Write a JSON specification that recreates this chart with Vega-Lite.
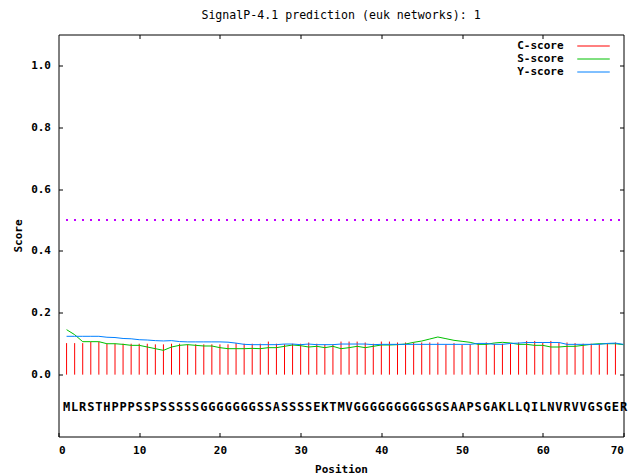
{
  "$schema": "https://vega.github.io/schema/vega-lite/v6.json",
  "autosize": "none",
  "width": 565,
  "height": 402,
  "padding": {"left": 58.5, "top": 34.5, "right": 9.5, "bottom": 39.5},
  "background": "white",
  "title": {"text": "SignalP-4.1 prediction (euk networks): 1", "font": "DejaVu Sans Mono", "fontSize": 11.6, "fontWeight": "normal", "color": "black", "offset": 12, "anchor": "middle", "frame": "group"},
  "config": {
    "view": {"stroke": "black", "strokeWidth": 1},
    "axis": {"domain": false, "grid": false, "ticks": true, "tickColor": "black", "tickSize": -4, "labelFont": "DejaVu Sans Mono", "labelFontWeight": "bold", "labelFontSize": 11, "labelColor": "black", "titleFont": "DejaVu Sans Mono", "titleFontWeight": "bold", "titleFontSize": 11, "titleColor": "black"},
    "legend": {"orient": "none", "legendX": 528, "legendY": 4.5, "title": null, "symbolType": "M-2.5,0H2.5", "symbolSize": 169, "symbolStrokeWidth": 1, "labelAlign": "right", "labelOffset": -37, "labelFont": "DejaVu Sans Mono", "labelFontWeight": "bold", "labelFontSize": 11, "labelColor": "black", "padding": 0, "rowPadding": 1}
  },
  "data": {"values": [
    {"pos":1,"aa":"M","C":0.102,"S":0.1455,"Y":0.124},
    {"pos":2,"aa":"L","C":0.102,"S":0.1293,"Y":0.124},
    {"pos":3,"aa":"R","C":0.102,"S":0.1067,"Y":0.124},
    {"pos":4,"aa":"S","C":0.106,"S":0.1067,"Y":0.124},
    {"pos":5,"aa":"T","C":0.106,"S":0.1067,"Y":0.124},
    {"pos":6,"aa":"H","C":0.100,"S":0.100,"Y":0.121},
    {"pos":7,"aa":"P","C":0.100,"S":0.100,"Y":0.120},
    {"pos":8,"aa":"P","C":0.100,"S":0.098,"Y":0.117},
    {"pos":9,"aa":"P","C":0.100,"S":0.0948,"Y":0.116},
    {"pos":10,"aa":"S","C":0.100,"S":0.0948,"Y":0.113},
    {"pos":11,"aa":"S","C":0.100,"S":0.0894,"Y":0.112},
    {"pos":12,"aa":"P","C":0.098,"S":0.084,"Y":0.110},
    {"pos":13,"aa":"S","C":0.098,"S":0.0786,"Y":0.109},
    {"pos":14,"aa":"S","C":0.100,"S":0.0894,"Y":0.110},
    {"pos":15,"aa":"S","C":0.100,"S":0.0948,"Y":0.107},
    {"pos":16,"aa":"S","C":0.098,"S":0.097,"Y":0.106},
    {"pos":17,"aa":"S","C":0.098,"S":0.0948,"Y":0.106},
    {"pos":18,"aa":"G","C":0.098,"S":0.0927,"Y":0.106},
    {"pos":19,"aa":"G","C":0.098,"S":0.0927,"Y":0.106},
    {"pos":20,"aa":"G","C":0.098,"S":0.0873,"Y":0.106},
    {"pos":21,"aa":"G","C":0.098,"S":0.084,"Y":0.105},
    {"pos":22,"aa":"G","C":0.102,"S":0.084,"Y":0.102},
    {"pos":23,"aa":"G","C":0.100,"S":0.084,"Y":0.098},
    {"pos":24,"aa":"G","C":0.100,"S":0.085,"Y":0.097},
    {"pos":25,"aa":"S","C":0.100,"S":0.084,"Y":0.097},
    {"pos":26,"aa":"S","C":0.107,"S":0.0873,"Y":0.097},
    {"pos":27,"aa":"A","C":0.100,"S":0.0873,"Y":0.097},
    {"pos":28,"aa":"S","C":0.098,"S":0.0916,"Y":0.099},
    {"pos":29,"aa":"S","C":0.100,"S":0.0959,"Y":0.099},
    {"pos":30,"aa":"S","C":0.100,"S":0.0937,"Y":0.097},
    {"pos":31,"aa":"S","C":0.104,"S":0.0894,"Y":0.099},
    {"pos":32,"aa":"E","C":0.100,"S":0.0916,"Y":0.097},
    {"pos":33,"aa":"K","C":0.098,"S":0.0873,"Y":0.097},
    {"pos":34,"aa":"T","C":0.098,"S":0.0916,"Y":0.097},
    {"pos":35,"aa":"M","C":0.107,"S":0.084,"Y":0.099},
    {"pos":36,"aa":"V","C":0.107,"S":0.0873,"Y":0.099},
    {"pos":37,"aa":"G","C":0.107,"S":0.0916,"Y":0.099},
    {"pos":38,"aa":"G","C":0.104,"S":0.0873,"Y":0.099},
    {"pos":39,"aa":"G","C":0.100,"S":0.0916,"Y":0.097},
    {"pos":40,"aa":"G","C":0.107,"S":0.0959,"Y":0.098},
    {"pos":41,"aa":"G","C":0.107,"S":0.0959,"Y":0.098},
    {"pos":42,"aa":"G","C":0.104,"S":0.097,"Y":0.098},
    {"pos":43,"aa":"G","C":0.104,"S":0.099,"Y":0.098},
    {"pos":44,"aa":"G","C":0.104,"S":0.1045,"Y":0.098},
    {"pos":45,"aa":"G","C":0.104,"S":0.1087,"Y":0.098},
    {"pos":46,"aa":"S","C":0.104,"S":0.1153,"Y":0.098},
    {"pos":47,"aa":"G","C":0.104,"S":0.1218,"Y":0.098},
    {"pos":48,"aa":"S","C":0.098,"S":0.1164,"Y":0.098},
    {"pos":49,"aa":"A","C":0.102,"S":0.111,"Y":0.098},
    {"pos":50,"aa":"A","C":0.096,"S":0.1078,"Y":0.098},
    {"pos":51,"aa":"P","C":0.098,"S":0.1045,"Y":0.098},
    {"pos":52,"aa":"S","C":0.102,"S":0.098,"Y":0.101},
    {"pos":53,"aa":"G","C":0.104,"S":0.098,"Y":0.101},
    {"pos":54,"aa":"A","C":0.100,"S":0.1024,"Y":0.098},
    {"pos":55,"aa":"K","C":0.100,"S":0.1045,"Y":0.098},
    {"pos":56,"aa":"L","C":0.100,"S":0.1024,"Y":0.101},
    {"pos":57,"aa":"L","C":0.104,"S":0.098,"Y":0.102},
    {"pos":58,"aa":"Q","C":0.109,"S":0.098,"Y":0.104},
    {"pos":59,"aa":"I","C":0.109,"S":0.0948,"Y":0.104},
    {"pos":60,"aa":"L","C":0.104,"S":0.0948,"Y":0.104},
    {"pos":61,"aa":"N","C":0.109,"S":0.0894,"Y":0.104},
    {"pos":62,"aa":"V","C":0.104,"S":0.0894,"Y":0.104},
    {"pos":63,"aa":"R","C":0.104,"S":0.0916,"Y":0.098},
    {"pos":64,"aa":"V","C":0.102,"S":0.0916,"Y":0.098},
    {"pos":65,"aa":"V","C":0.100,"S":0.0948,"Y":0.098},
    {"pos":66,"aa":"G","C":0.100,"S":0.098,"Y":0.098},
    {"pos":67,"aa":"S","C":0.100,"S":0.100,"Y":0.098},
    {"pos":68,"aa":"G","C":0.100,"S":0.100,"Y":0.101},
    {"pos":69,"aa":"E","C":0.104,"S":0.100,"Y":0.102},
    {"pos":70,"aa":"R","C":null,"S":0.097,"Y":0.098}
  ]},
  "resolve": {"axis": {"x": "independent", "y": "independent"}},
  "layer": [
    {
      "transform": [{"fold": ["C", "S", "Y"], "as": ["series", "score"]}, {"filter": "datum.series == 'C' && datum.score != null"}],
      "mark": {"type": "rule", "strokeWidth": 1},
      "encoding": {
        "x": {"field": "pos", "type": "quantitative", "scale": {"domain": [0, 70], "nice": false}, "axis": {"orient": "bottom", "values": [0,10,20,30,40,50,60,70], "labelPadding": 12, "title": "Position", "titlePadding": 8}},
        "y": {"field": "score", "type": "quantitative", "scale": {"domain": [-0.2, 1.1], "nice": false, "zero": false}, "axis": {"orient": "left", "values": [0,0.2,0.4,0.6,0.8,1.0], "format": ".1f", "labelPadding": 12, "title": "Score", "titlePadding": 7}},
        "y2": {"datum": 0},
        "color": {"field": "series", "type": "nominal", "scale": {"domain": ["C", "S", "Y"], "range": ["#ff0000", "#00c000", "#0080ff"]}, "legend": {"labelExpr": "datum.label + '-score'"}}
      }
    },
    {
      "transform": [{"fold": ["S", "Y"], "as": ["series", "score"]}],
      "mark": {"type": "line", "strokeWidth": 1},
      "encoding": {
        "x": {"field": "pos", "type": "quantitative", "axis": null},
        "y": {"field": "score", "type": "quantitative", "axis": null},
        "color": {"field": "series", "type": "nominal", "legend": {"labelExpr": "datum.label + '-score'"}}
      }
    },
    {
      "mark": {"type": "rule", "color": "#c000ff", "strokeWidth": 1, "strokeDash": [1, 7]},
      "encoding": {
        "x": {"datum": 1, "type": "quantitative", "axis": null},
        "x2": {"datum": 70},
        "y": {"datum": 0.5, "type": "quantitative", "axis": null}
      }
    },
    {
      "mark": {"type": "text", "font": "DejaVu Sans Mono", "fontWeight": "bold", "fontSize": 12, "color": "black", "baseline": "middle", "align": "center", "dy": 1.5},
      "encoding": {
        "x": {"field": "pos", "type": "quantitative", "axis": {"orient": "top", "values": [10,20,30,40,50,60], "labels": false, "ticks": true, "tickSize": -4, "tickColor": "black", "title": null, "zindex": 1}},
        "y": {"datum": -0.1, "type": "quantitative", "axis": {"orient": "right", "values": [0,0.2,0.4,0.6,0.8,1.0], "labels": false, "ticks": true, "tickSize": -4, "tickColor": "black", "title": null, "zindex": 1}},
        "text": {"field": "aa"}
      }
    }
  ]
}
